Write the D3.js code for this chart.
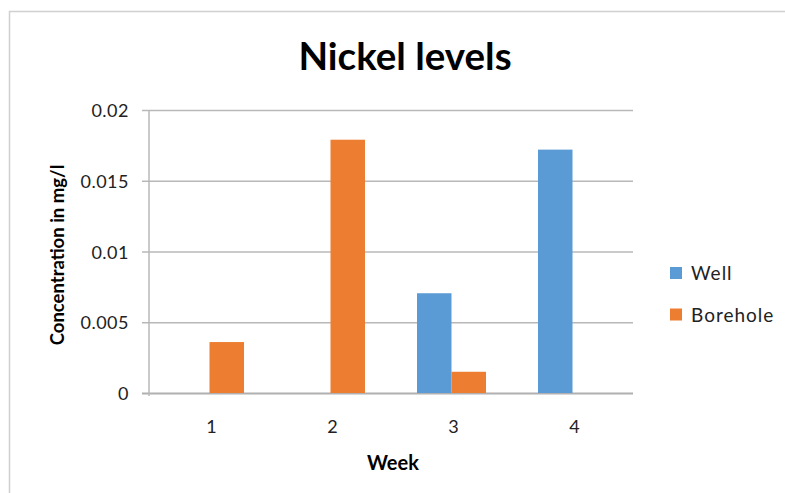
<!DOCTYPE html>
<html><head><meta charset="utf-8">
<script src="https://cdn.jsdelivr.net/npm/d3@7"></script>
<style>body{margin:0;background:#fff;} svg{display:block;font-family:Lato,"Open Sans",sans-serif;}</style>
</head><body>
<svg id="c" width="785" height="493"></svg>
<script>
const weeks = ["1", "2", "3", "4"];
const seriesNames = ["Well", "Borehole"];
const wellValues = [0, 0, 0.00705, 0.0172];
const boreholeValues = [0.0036, 0.0179, 0.0015, 0];
const yTicks = [0, 0.005, 0.01, 0.015, 0.02];
const yTickLabels = ["0", "0.005", "0.01", "0.015", "0.02"];
const colors = ["#5B9BD5", "#ED7D31"];

const svg = d3.select("#c");
// outer border
svg.append("path").attr("d","M9.5,493 V11.5 H785").attr("fill","none").attr("stroke","#d0d0d0").attr("stroke-width",1.5);

const L=149, R=633, T=110, B=393;
const x = d3.scaleBand().domain(weeks).range([L,R]).paddingInner(0).paddingOuter(0);
const y = d3.scaleLinear().domain([0,0.02]).range([B,T]);
const barW = 34.5;
const xs = d3.scaleBand().domain(seriesNames).range([0, barW*2]);

// gridlines
svg.append("g").selectAll("line").data(yTicks).join("line")
  .attr("x1",L-7).attr("x2",R).attr("y1",d=>y(d)+0.5).attr("y2",d=>y(d)+0.5)
  .attr("stroke",d=>d===0?"#b0b0b0":"#b8b8b8").attr("stroke-width",d=>d===0?2:1.3);
// y axis line
svg.append("line").attr("x1",L).attr("x2",L).attr("y1",T).attr("y2",B+3).attr("stroke","#b8b8b8").attr("stroke-width",1.5);

// y tick labels
svg.append("g").selectAll("text").data(yTicks).join("text")
  .attr("x",L-20).attr("y",d=>y(d)+7).attr("text-anchor","end")
  .attr("font-size",18).attr("letter-spacing",0.5).attr("fill","#222").text((d,i)=>yTickLabels[i]);

// x labels
svg.append("g").selectAll("text").data(weeks).join("text")
  .attr("x",d=>x(d)+x.bandwidth()/2+2).attr("y",433).attr("text-anchor","middle")
  .attr("font-size",18).attr("fill","#222").text(d=>d);

// bars
const data = [wellValues, boreholeValues];
data.forEach((vals,si)=>{
  svg.append("g").selectAll("rect").data(weeks).join("rect")
    .attr("x",(d)=>x(d)+x.bandwidth()/2-barW+xs(seriesNames[si]))
    .attr("width",barW)
    .attr("y",(d,i)=>y(vals[i]))
    .attr("height",(d,i)=>B-y(vals[i]))
    .attr("fill",colors[si]);
});

// title
svg.append("text").attr("x",405).attr("y",70).attr("text-anchor","middle")
  .attr("font-size",38.5).attr("font-weight","bold").attr("fill","#000").text("Nickel levels");
// y title
svg.append("text").attr("transform","translate(64,255) rotate(-90)").attr("text-anchor","middle")
  .attr("font-size",18.5).attr("font-weight","bold").attr("fill","#000").text("Concentration in mg/l");
// x title
svg.append("text").attr("x",393).attr("y",470).attr("text-anchor","middle")
  .attr("font-size",20).attr("font-weight","bold").attr("fill","#000").text("Week");

// legend
seriesNames.forEach((n,i)=>{
  const ly = 273 + i*41.5;
  svg.append("rect").attr("x",670).attr("y",ly-6).attr("width",12).attr("height",12).attr("fill",colors[i]);
  svg.append("text").attr("x",691).attr("y",ly+7).attr("font-size",19).attr("letter-spacing",1).attr("fill","#222").text(n);
});
</script>
</body></html>
